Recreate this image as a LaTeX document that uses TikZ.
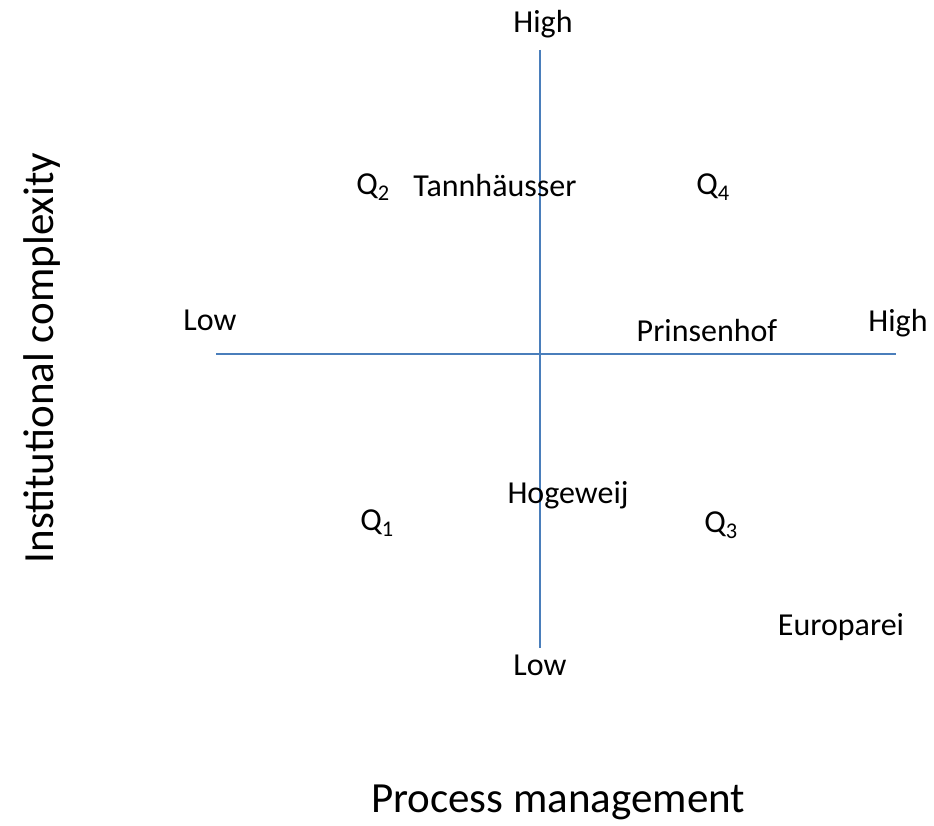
\documentclass[tikz,border=0pt]{standalone}
\usepackage{fontspec}
\setmainfont{Carlito}
\begin{document}
\begin{tikzpicture}[x=1pt,y=-1pt,
  axis/.style={draw=axisblue,line width=2pt},
  lbl/.style={font=\fontsize{32}{36}\selectfont,inner sep=0pt,text=black},
  qlbl/.style={font=\fontsize{32}{36}\selectfont,inner sep=0pt,text=black},
  big/.style={font=\fontsize{43}{48}\selectfont,inner sep=0pt,text=black}]
\definecolor{axisblue}{HTML}{4A7EBB}
\useasboundingbox (0,0) rectangle (934,826);
\coordinate (vtop) at (540,50);
\coordinate (vbot) at (540,648);
\coordinate (hleft) at (216,354);
\coordinate (hright) at (896,354);
\draw[axis] (vtop) -- (vbot);
\draw[axis] (hleft) -- (hright);
\node[lbl] (hightop) at (543,24) {High};
\node[lbl] (lowbot) at (540,665) {Low};
\node[lbl] (lowleft) at (210,320) {Low};
\node[lbl] (highright) at (898,323) {High};
\node[lbl] (tann) at (495,186) {Tannhäusser};
\node[lbl] (prin) at (707,331) {Prinsenhof};
\node[lbl] (hoge) at (568,495) {Hogeweij};
\node[lbl] (euro) at (841,627) {Europarei};
\node[qlbl] (q2) at (373,187) {Q\textsubscript{2}};
\node[qlbl] (q4) at (713,187) {Q\textsubscript{4}};
\node[qlbl] (q1) at (377,523) {Q\textsubscript{1}};
\node[qlbl] (q3) at (721,525) {Q\textsubscript{3}};
\node[big,rotate=90] (yl) at (42,358) {Institutional complexity};
\node[big] (xl) at (558,802) {Process management};
\end{tikzpicture}
\end{document}
